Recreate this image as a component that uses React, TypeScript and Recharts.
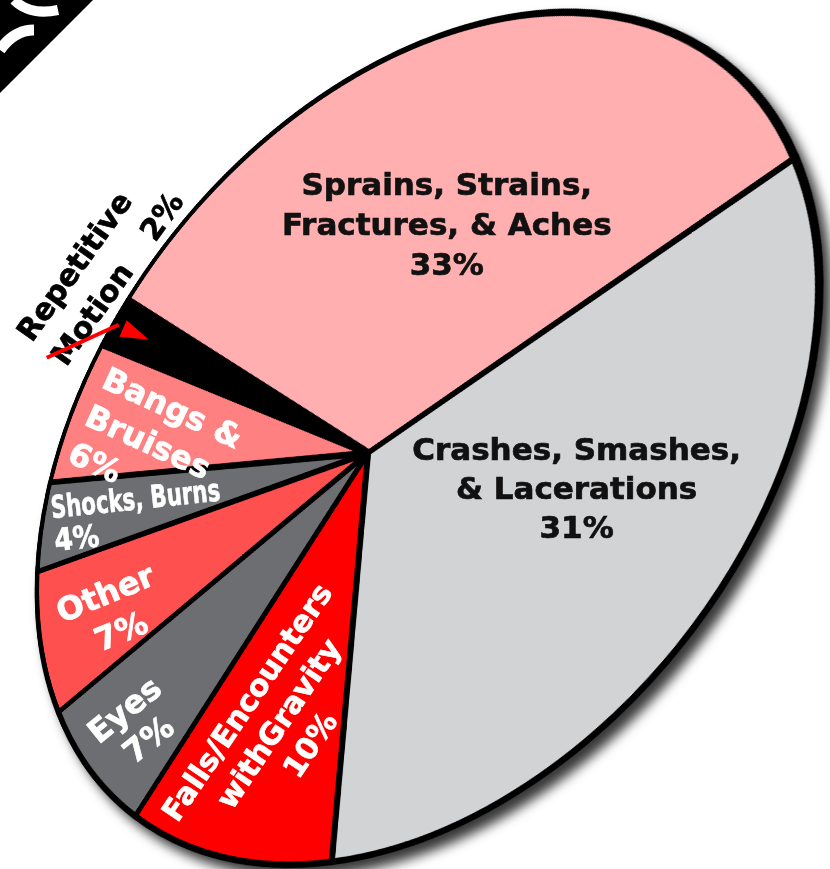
import React from "react";
import { PieChart, Pie, Cell } from "recharts";

// ---------- data ----------
const categories = [
  "Sprains, Strains, Fractures, & Aches",
  "Crashes, Smashes, & Lacerations",
  "Falls/Encounters withGravity",
  "Eyes",
  "Other",
  "Shocks, Burns",
  "Bangs & Bruises",
  "Repetitive Motion",
];
const values = [33, 31, 10, 7, 7, 4, 6, 2];
const labelLines = [
  ["Sprains, Strains,", "Fractures, & Aches"],
  ["Crashes, Smashes,", "& Lacerations"],
  ["Falls/Encounters", "withGravity"],
  ["Eyes"],
  ["Other"],
  ["Shocks, Burns"],
  ["Bangs &", "Bruises"],
  ["Repetitive", "Motion"],
];
const percentLabels = values.map((v) => `${v}%`);

// ---------- style ----------
const COLORS = ["#FFAFAF", "#D2D3D5", "#FF0000", "#6D6E71", "#FF5050", "#6D6E71", "#FF8080", "#000000"];

const W = 830;
const H = 869;
const R = 560;
const PAD = 16;
const SIZE = 2 * (R + PAD);
const C0 = R + PAD;

// tilted disc (ellipse on screen) and the hub of the pie
const ELL = { cx: 428.1, cy: 438.5, a: 478, b: 326, tilt: 51.78 };
const HUB = { x: 368, y: 453 };
const START_BETA = 265.8; // clockwise screen angle in disc frame

type LabelLayout = {
  dBeta: number;
  r: number;
  rot: number;
  size: number;
  lh: number;
  align: "middle" | "start";
  color: string;
  fit?: number[];
};

const LAYOUT: LabelLayout[] = [
  { dBeta: 7.8, r: 0.535, rot: 0, size: 31, lh: 40, align: "middle", color: "#111" },
  { dBeta: -11.1, r: 0.57, rot: 0, size: 31, lh: 39, align: "middle", color: "#111" },
  { dBeta: -1.85, r: 0.657, rot: -56, size: 30, lh: 38, align: "middle", color: "#fff" },
  { dBeta: -1.0, r: 0.83, rot: -39, size: 32, lh: 38, align: "middle", color: "#fff" },
  { dBeta: -1.8, r: 0.76, rot: -22.6, size: 32, lh: 41, align: "middle", color: "#fff" },
  { dBeta: 1.2, r: 0.967, rot: -6, size: 31, lh: 33, align: "start", color: "#fff", fit: [170, 45] },
  { dBeta: 4.8, r: 0.936, rot: 24.7, size: 32, lh: 41, align: "start", color: "#fff" },
  { dBeta: -6.5, r: 1.26, rot: -54.5, size: 30, lh: 42, align: "start", color: "#000" },
];

type M3 = number[][];
const mul = (A: M3, B: M3): M3 =>
  A.map((row) => [0, 1, 2].map((j) => row[0] * B[0][j] + row[1] * B[1][j] + row[2] * B[2][j]));

function buildProjection() {
  const t = (ELL.tilt * Math.PI) / 180;
  const d1 = [Math.cos(t), -Math.sin(t)];
  const d2 = [Math.sin(t), Math.cos(t)];
  const qx = HUB.x - ELL.cx;
  const qy = HUB.y - ELL.cy;
  const pu = (qx * d1[0] + qy * d1[1]) / ELL.a;
  const pv = (qx * d2[0] + qy * d2[1]) / ELL.b;
  const pl = Math.hypot(pu, pv);
  const nx = pu / pl;
  const ny = pv / pl;
  const ch = 1 / Math.sqrt(1 - pl * pl);
  const sh = pl * ch;
  const B = [
    [1 + (ch - 1) * nx * nx, (ch - 1) * nx * ny, sh * nx],
    [(ch - 1) * nx * ny, 1 + (ch - 1) * ny * ny, sh * ny],
    [sh * nx, sh * ny, ch],
  ];
  const A = [
    [ELL.a * d1[0], ELL.b * d2[0], ELL.cx],
    [ELL.a * d1[1], ELL.b * d2[1], ELL.cy],
    [0, 0, 1],
  ];
  const AB = mul(A, B);
  const S = [
    [1 / R, 0, -C0 / R],
    [0, 1 / R, -C0 / R],
    [0, 0, 1],
  ];
  return { AB, Hm: mul(AB, S) };
}

const FONT = "'DejaVu Sans', 'Liberation Sans', sans-serif";

export default function App() {
  const { AB, Hm } = buildProjection();
  const project = (beta: number, r: number) => {
    const b = (beta * Math.PI) / 180;
    const X = r * Math.cos(b);
    const Y = r * Math.sin(b);
    const x = AB[0][0] * X + AB[0][1] * Y + AB[0][2];
    const y = AB[1][0] * X + AB[1][1] * Y + AB[1][2];
    const w = AB[2][0] * X + AB[2][1] * Y + AB[2][2];
    return [x / w, y / w];
  };

  const data = categories.map((name, i) => ({ name, value: values[i] }));
  const total = values.reduce((s, v) => s + v, 0);
  let cum = 0;
  const mids = values.map((v) => {
    const m = START_BETA + (360 * (cum + v / 2)) / total;
    cum += v;
    return m;
  });

  const matrix = `matrix3d(${Hm[0][0]}, ${Hm[1][0]}, 0, ${Hm[2][0]}, ${Hm[0][1]}, ${Hm[1][1]}, 0, ${Hm[2][1]}, 0, 0, 1, 0, ${Hm[0][2]}, ${Hm[1][2]}, 0, ${Hm[2][2]})`;

  const last = values.length - 1;
  const labels = LAYOUT.map((L, i) => {
    const [x, y] = project(mids[i] + L.dBeta, L.r);
    const lines = i === last ? labelLines[i] : [...labelLines[i], percentLabels[i]];
    const n = lines.length;
    return (
      <g key={i} transform={`translate(${x},${y}) rotate(${L.rot})`}>
        {lines.map((txt, k) => {
          const yy = L.align === "middle" ? (k - (n - 1) / 2) * L.lh + 0.365 * L.size : k * L.lh;
          const extra: any = {};
          if (L.fit && L.fit[k]) {
            extra.textLength = L.fit[k];
            extra.lengthAdjust = "spacingAndGlyphs";
          }
          return (
            <text
              key={k}
              x={0}
              y={yy}
              textAnchor={L.align}
              fill={L.color}
              stroke={L.color}
              strokeWidth={0.7}
              fontFamily={FONT}
              fontWeight={700}
              fontSize={L.size}
              {...extra}
            >
              {txt}
            </text>
          );
        })}
        {i === last && (
          <text
            x={153}
            y={L.lh}
            fill={L.color}
            stroke={L.color}
            strokeWidth={0.7}
            fontFamily={FONT}
            fontWeight={700}
            fontSize={L.size}
          >
            {percentLabels[i]}
          </text>
        )}
      </g>
    );
  });

  // red pointer arrow into the small slice
  const [tx, ty] = project(mids[last], 0.85);
  const dir = [0.917, 0.4];
  const perp = [-dir[1], dir[0]];
  const bc = [tx - 28 * dir[0], ty - 28 * dir[1]];
  const head = `${tx},${ty} ${bc[0] + 9 * perp[0]},${bc[1] + 9 * perp[1]} ${bc[0] - 9 * perp[0]},${bc[1] - 9 * perp[1]}`;

  return (
    <div
      style={{
        position: "absolute",
        left: 0,
        top: 0,
        width: W,
        height: H,
        overflow: "hidden",
        background: "#fff",
      }}
    >
      <div
        style={{
          position: "absolute",
          left: 0,
          top: 0,
          width: W,
          height: H,
          filter: "drop-shadow(8px 9px 6px rgba(0,0,0,0.78))",
        }}
      >
        <div
          style={{
            position: "absolute",
            left: 0,
            top: 0,
            width: SIZE,
            height: SIZE,
            transformOrigin: "0 0",
            transform: matrix,
          }}
        >
          <PieChart width={SIZE} height={SIZE} margin={{ top: 0, right: 0, bottom: 0, left: 0 }}>
            <Pie
              data={data}
              dataKey="value"
              nameKey="name"
              cx={C0}
              cy={C0}
              innerRadius={0}
              outerRadius={R}
              startAngle={360 - START_BETA}
              endAngle={-START_BETA}
              stroke="#000"
              strokeWidth={9}
              strokeLinejoin="round"
              isAnimationActive={false}
            >
              {data.map((d, i) => (
                <Cell key={d.name} fill={COLORS[i]} />
              ))}
            </Pie>
          </PieChart>
        </div>
      </div>
      <svg
        width={W}
        height={H}
        style={{ position: "absolute", left: 0, top: 0, pointerEvents: "none" }}
      >
        <polygon points="0,0 93,0 0,93" fill="#000" />
        <path d="M0,50 Q14,30 34,30" stroke="#fff" strokeWidth={11} fill="none" />
        <path d="M14,0 Q30,16 58,10" stroke="#fff" strokeWidth={10} fill="none" />
        {labels}
        <line x1={tx - 102} y1={ty + 18} x2={tx - 30} y2={ty - 15} stroke="#FF0000" strokeWidth={4} />
        <polygon points={head} fill="#FF0000" />
      </svg>
    </div>
  );
}
